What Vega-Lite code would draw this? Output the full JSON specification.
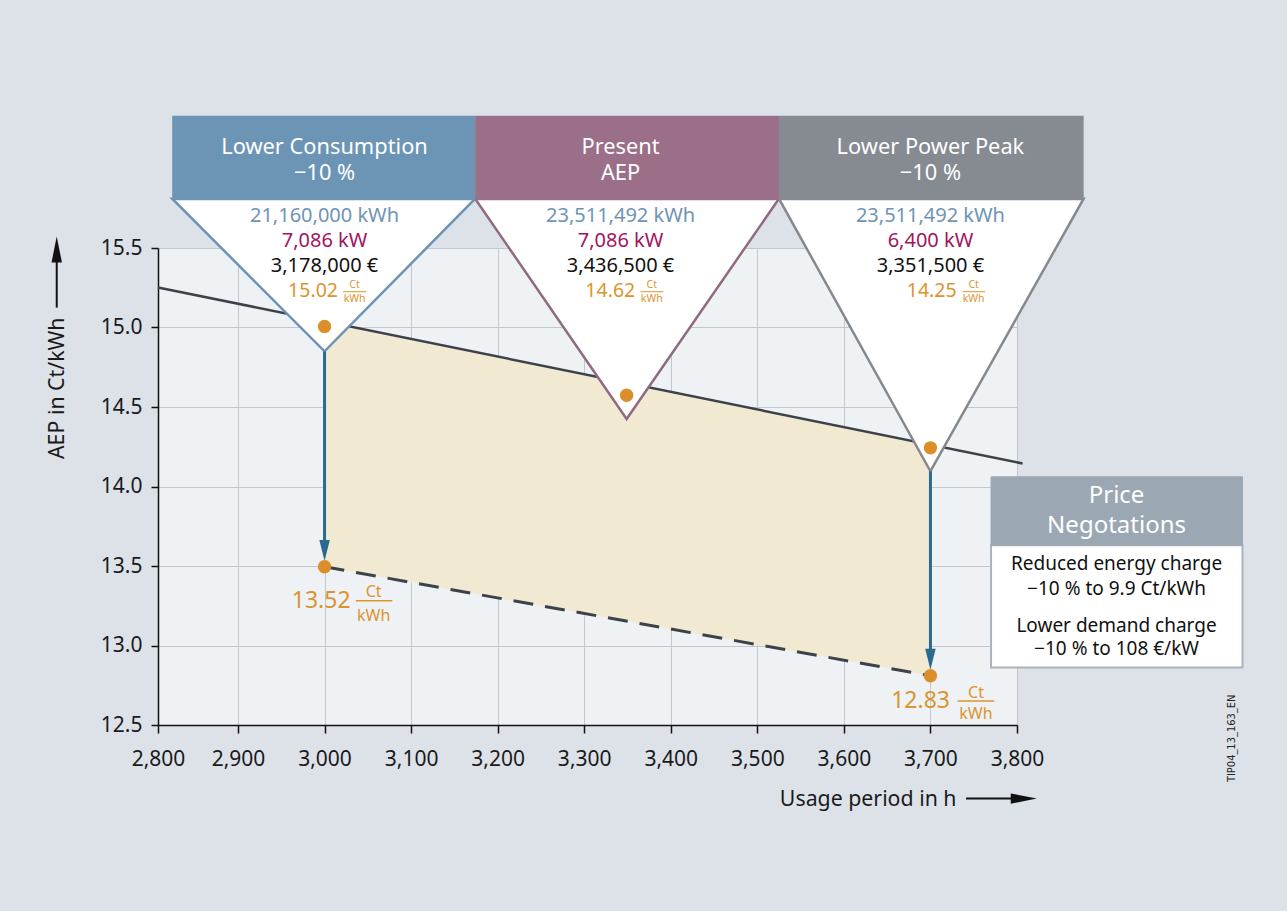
{
  "$schema": "https://vega.github.io/schema/vega-lite/v6.json",
  "usermeta": {"embedOptions": {"actions": false}},
  "width": 859,
  "height": 477,
  "autosize": {"type": "none"},
  "padding": {"left": 158, "top": 248, "right": 270, "bottom": 186},
  "background": "#dde2e9",
  "config": {
    "font": "Noto Sans",
    "view": {"fill": "#eef2f5", "stroke": null},
    "axis": {
      "domainColor": "#111111", "domainWidth": 1.5,
      "tickColor": "#111111", "tickWidth": 1.5,
      "gridColor": "#c3c7cd", "gridWidth": 1,
      "labelFont": "Noto Sans", "labelFontSize": 21, "labelColor": "#1a1a1a",
      "labelFlush": false, "labelOverlap": false,
      "titleFont": "Noto Sans", "titleFontSize": 21.3, "titleFontWeight": "normal", "titleColor": "#1a1a1a"
    }
  },
  "datasets": {
    "solid": [{"x": 2807.6, "y": 15.252}, {"x": 3806.4, "y": 14.145}],
    "dashed": [{"x": 3000, "y": 13.495}, {"x": 3700, "y": 12.81}],
    "band": [{"x": 3000, "y": 15.039, "y2": 13.495}, {"x": 3700, "y": 14.263, "y2": 12.81}],
    "tri": [
      {"g": "A", "x": 2824, "y": 15.81, "y2": 15.81},
      {"g": "A", "x": 3000, "y": 15.81, "y2": 14.85},
      {"g": "A", "x": 3174, "y": 15.81, "y2": 15.81},
      {"g": "B", "x": 3174, "y": 15.81, "y2": 15.81},
      {"g": "B", "x": 3349, "y": 15.81, "y2": 14.425},
      {"g": "B", "x": 3525, "y": 15.81, "y2": 15.81},
      {"g": "C", "x": 3525, "y": 15.81, "y2": 15.81},
      {"g": "C", "x": 3700, "y": 15.81, "y2": 14.096},
      {"g": "C", "x": 3877, "y": 15.81, "y2": 15.81}
    ],
    "boxes": [
      {"g": "A", "x": 2824, "x2": 3174, "y": 16.331, "y2": 15.8},
      {"g": "B", "x": 3174, "x2": 3525, "y": 16.331, "y2": 15.8},
      {"g": "C", "x": 3525, "x2": 3877, "y": 16.331, "y2": 15.8}
    ],
    "arrows": [
      {"x": 3000, "x2": 3000, "y": 14.85, "y2": 13.6},
      {"x": 3700, "x2": 3700, "y": 14.096, "y2": 12.915}
    ],
    "heads": [{"x": 3000, "y": 13.597}, {"x": 3700, "y": 12.913}],
    "dots": [
      {"x": 3000, "y": 15.007}, {"x": 3349, "y": 14.574}, {"x": 3700, "y": 14.243},
      {"x": 3000, "y": 13.495}, {"x": 3700, "y": 12.81}
    ],
    "bars": [
      {"x": 3021.5, "x2": 3048.2, "y": 15.225, "y2": 15.225},
      {"x": 3365.0, "x2": 3391.5, "y": 15.225, "y2": 15.225},
      {"x": 3737.2, "x2": 3763.4, "y": 15.225, "y2": 15.225}
    ],
    "bigbars": [
      {"x": 3036.2, "x2": 3078.3, "y": 13.282, "y2": 13.282},
      {"x": 3731.4, "x2": 3773.8, "y": 12.651, "y2": 12.651}
    ],
    "pbody": [{"x": 3770, "x2": 4060.5, "y": 13.631, "y2": 12.861}],
    "phead": [{"x": 3770, "x2": 4060.5, "y": 14.061, "y2": 13.631}],
    "axlines": [
      {"x": 2690.6, "x2": 2690.6, "y": 15.125, "y2": 15.48},
      {"x": 3741.1, "x2": 3800, "y": 12.037, "y2": 12.037}
    ],
    "uphead": [{"x": 2690.6, "y": 15.491}],
    "righthead": [{"x": 3807.8, "y": 12.037}],
    "text": [
      {"role": "header", "x": 3000, "y": 16.138, "label": "Lower Consumption"},
      {"role": "header", "x": 3000, "y": 15.973, "label": "−10 %"},
      {"role": "header", "x": 3342, "y": 16.138, "label": "Present"},
      {"role": "header", "x": 3342, "y": 15.973, "label": "AEP"},
      {"role": "header", "x": 3700, "y": 16.138, "label": "Lower Power Peak"},
      {"role": "header", "x": 3700, "y": 15.973, "label": "−10 %"},
      {"role": "kwh", "x": 3000, "y": 15.699, "label": "21,160,000 kWh"},
      {"role": "kwh", "x": 3342, "y": 15.699, "label": "23,511,492 kWh"},
      {"role": "kwh", "x": 3700, "y": 15.699, "label": "23,511,492 kWh"},
      {"role": "kw", "x": 3000, "y": 15.541, "label": "7,086 kW"},
      {"role": "kw", "x": 3342, "y": 15.541, "label": "7,086 kW"},
      {"role": "kw", "x": 3700, "y": 15.541, "label": "6,400 kW"},
      {"role": "eur", "x": 3000, "y": 15.389, "label": "3,178,000 €"},
      {"role": "eur", "x": 3342, "y": 15.389, "label": "3,436,500 €"},
      {"role": "eur", "x": 3700, "y": 15.389, "label": "3,351,500 €"},
      {"role": "num", "x": 3015.5, "y": 15.232, "label": "15.02"},
      {"role": "num", "x": 3358.9, "y": 15.232, "label": "14.62"},
      {"role": "num", "x": 3730.2, "y": 15.232, "label": "14.25"},
      {"role": "frac", "x": 3034.7, "y": 15.265, "label": "Ct"},
      {"role": "frac", "x": 3034.7, "y": 15.181, "label": "kWh"},
      {"role": "frac", "x": 3378.0, "y": 15.265, "label": "Ct"},
      {"role": "frac", "x": 3378.0, "y": 15.178, "label": "kWh"},
      {"role": "frac", "x": 3749.9, "y": 15.265, "label": "Ct"},
      {"role": "frac", "x": 3749.9, "y": 15.178, "label": "kWh"},
      {"role": "bignum", "x": 3030.1, "y": 13.279, "label": "13.52"},
      {"role": "bignum", "x": 3722.6, "y": 12.651, "label": "12.83"},
      {"role": "bigfrac", "x": 3056.7, "y": 13.336, "label": "Ct"},
      {"role": "bigfrac", "x": 3056.7, "y": 13.185, "label": "kWh"},
      {"role": "bigfrac", "x": 3752.6, "y": 12.704, "label": "Ct"},
      {"role": "bigfrac", "x": 3752.6, "y": 12.567, "label": "kWh"},
      {"role": "phdr", "x": 3915, "y": 13.939, "label": "Price"},
      {"role": "phdr", "x": 3915, "y": 13.75, "label": "Negotations"},
      {"role": "pbody", "x": 3915, "y": 13.51, "label": "Reduced energy charge"},
      {"role": "pbody", "x": 3915, "y": 13.353, "label": "−10 % to 9.9 Ct/kWh"},
      {"role": "pbody", "x": 3915, "y": 13.122, "label": "Lower demand charge"},
      {"role": "pbody", "x": 3915, "y": 12.976, "label": "−10 % to 108 €/kW"},
      {"role": "tip", "x": 4048.6, "y": 12.416, "label": "TIP04_13_163_EN"}
    ]
  },
  "encoding": {
    "x": {
      "field": "x", "type": "quantitative",
      "scale": {"domain": [2807.6, 3800], "nice": false, "zero": false},
      "axis": {
        "values": [2807.6, 2900, 3000, 3100, 3200, 3300, 3400, 3500, 3600, 3700, 3800],
        "labelExpr": "datum.value < 2850 ? '2,800' : format(datum.value, ',')",
        "tickSize": 8, "labelPadding": 15,
        "title": "Usage period in h",
        "titleAnchor": "start", "titleAlign": "right", "titleBaseline": "middle",
        "titleX": 798, "titleY": 74
      }
    },
    "y": {
      "field": "y", "type": "quantitative",
      "scale": {"domain": [12.5, 15.5], "nice": false, "zero": false},
      "axis": {
        "values": [12.5, 13, 13.5, 14, 14.5, 15, 15.5],
        "format": ".1f",
        "tickSize": 7, "labelPadding": 9,
        "title": "AEP in Ct/kWh",
        "titleAngle": -90, "titleAlign": "right", "titleBaseline": "middle",
        "titleX": -101, "titleY": 69
      }
    }
  },
  "layer": [
    {
      "data": {"name": "band"},
      "mark": {"type": "area", "color": "#f2e9d3", "opacity": 1},
      "encoding": {"y2": {"field": "y2"}}
    },
    {
      "data": {"name": "solid"},
      "mark": {"type": "line", "color": "#3c4249", "strokeWidth": 2.5}
    },
    {
      "data": {"name": "dashed"},
      "mark": {"type": "line", "color": "#3c4249", "strokeWidth": 3, "strokeDash": [20, 12]}
    },
    {
      "data": {"name": "tri"},
      "mark": {"type": "area", "fill": "#ffffff", "fillOpacity": 1, "strokeWidth": 2.5, "strokeJoin": "miter"},
      "encoding": {
        "y": {"field": "y", "type": "quantitative", "stack": null},
        "y2": {"field": "y2"},
        "stroke": {"field": "g", "type": "nominal", "scale": {"domain": ["A", "B", "C"], "range": ["#6e93b3", "#8f6b82", "#85898f"]}, "legend": null}
      }
    },
    {
      "data": {"name": "boxes"},
      "mark": {"type": "rect"},
      "encoding": {
        "x2": {"field": "x2"}, "y2": {"field": "y2"},
        "fill": {"field": "g", "type": "nominal", "scale": {"domain": ["A", "B", "C"], "range": ["#6c95b5", "#9a6f87", "#868a91"]}, "legend": null}
      }
    },
    {
      "data": {"name": "text"},
      "transform": [{"filter": "datum.role == 'header'"}],
      "mark": {"type": "text", "fontSize": 21.8, "color": "#ffffff", "baseline": "middle", "align": "center"},
      "encoding": {"text": {"field": "label"}}
    },
    {
      "data": {"name": "text"},
      "transform": [{"filter": "datum.role == 'kwh'"}],
      "mark": {"type": "text", "fontSize": 20, "color": "#6f94b4", "baseline": "middle", "align": "center"},
      "encoding": {"text": {"field": "label"}}
    },
    {
      "data": {"name": "text"},
      "transform": [{"filter": "datum.role == 'kw'"}],
      "mark": {"type": "text", "fontSize": 20, "color": "#a3145e", "baseline": "middle", "align": "center"},
      "encoding": {"text": {"field": "label"}}
    },
    {
      "data": {"name": "text"},
      "transform": [{"filter": "datum.role == 'eur'"}],
      "mark": {"type": "text", "fontSize": 20, "color": "#111111", "baseline": "middle", "align": "center"},
      "encoding": {"text": {"field": "label"}}
    },
    {
      "data": {"name": "text"},
      "transform": [{"filter": "datum.role == 'num'"}],
      "mark": {"type": "text", "fontSize": 19.5, "color": "#dc942f", "baseline": "middle", "align": "right"},
      "encoding": {"text": {"field": "label"}}
    },
    {
      "data": {"name": "text"},
      "transform": [{"filter": "datum.role == 'frac'"}],
      "mark": {"type": "text", "fontSize": 10.5, "color": "#dc942f", "baseline": "middle", "align": "center"},
      "encoding": {"text": {"field": "label"}}
    },
    {
      "data": {"name": "bars"},
      "mark": {"type": "rule", "color": "#dc942f", "strokeWidth": 1},
      "encoding": {"x2": {"field": "x2"}, "y2": {"field": "y2"}}
    },
    {
      "data": {"name": "arrows"},
      "mark": {"type": "rule", "color": "#2b6a90", "strokeWidth": 3},
      "encoding": {"x2": {"field": "x2"}, "y2": {"field": "y2"}}
    },
    {
      "data": {"name": "heads"},
      "mark": {"type": "point", "shape": "M-0.5,-1L0.5,-1L0,1Z", "filled": true, "size": 441, "color": "#2b6a90", "opacity": 1, "strokeWidth": 0}
    },
    {
      "data": {"name": "dots"},
      "mark": {"type": "point", "shape": "circle", "filled": true, "size": 180, "color": "#dc8e2a", "opacity": 1, "strokeWidth": 0}
    },
    {
      "data": {"name": "text"},
      "transform": [{"filter": "datum.role == 'bignum'"}],
      "mark": {"type": "text", "fontSize": 23, "color": "#dc942f", "baseline": "middle", "align": "right"},
      "encoding": {"text": {"field": "label"}}
    },
    {
      "data": {"name": "text"},
      "transform": [{"filter": "datum.role == 'bigfrac'"}],
      "mark": {"type": "text", "fontSize": 16, "color": "#dc942f", "baseline": "middle", "align": "center"},
      "encoding": {"text": {"field": "label"}}
    },
    {
      "data": {"name": "bigbars"},
      "mark": {"type": "rule", "color": "#dc942f", "strokeWidth": 1.5},
      "encoding": {"x2": {"field": "x2"}, "y2": {"field": "y2"}}
    },
    {
      "data": {"name": "pbody"},
      "mark": {"type": "rect", "fill": "#ffffff", "stroke": "#aab3bc", "strokeWidth": 2},
      "encoding": {"x2": {"field": "x2"}, "y2": {"field": "y2"}}
    },
    {
      "data": {"name": "phead"},
      "mark": {"type": "rect", "fill": "#9ba7b3", "stroke": "#9ba7b3", "strokeWidth": 1},
      "encoding": {"x2": {"field": "x2"}, "y2": {"field": "y2"}}
    },
    {
      "data": {"name": "text"},
      "transform": [{"filter": "datum.role == 'phdr'"}],
      "mark": {"type": "text", "fontSize": 24, "color": "#ffffff", "baseline": "middle", "align": "center"},
      "encoding": {"text": {"field": "label"}}
    },
    {
      "data": {"name": "text"},
      "transform": [{"filter": "datum.role == 'pbody'"}],
      "mark": {"type": "text", "fontSize": 19, "color": "#111111", "baseline": "middle", "align": "center"},
      "encoding": {"text": {"field": "label"}}
    },
    {
      "data": {"name": "axlines"},
      "mark": {"type": "rule", "color": "#111111", "strokeWidth": 2},
      "encoding": {"x2": {"field": "x2"}, "y2": {"field": "y2"}}
    },
    {
      "data": {"name": "uphead"},
      "mark": {"type": "point", "shape": "M0,-1L0.4,1L-0.4,1Z", "filled": true, "size": 676, "color": "#111111", "opacity": 1, "strokeWidth": 0}
    },
    {
      "data": {"name": "righthead"},
      "mark": {"type": "point", "shape": "M1,0L-1,-0.4L-1,0.4Z", "filled": true, "size": 676, "color": "#111111", "opacity": 1, "strokeWidth": 0}
    },
    {
      "data": {"name": "text"},
      "transform": [{"filter": "datum.role == 'tip'"}],
      "mark": {"type": "text", "fontSize": 11, "font": "DejaVu Sans Condensed, Liberation Sans, sans-serif", "color": "#222222", "baseline": "middle", "align": "center", "angle": 270},
      "encoding": {"text": {"field": "label"}}
    }
  ]
}
